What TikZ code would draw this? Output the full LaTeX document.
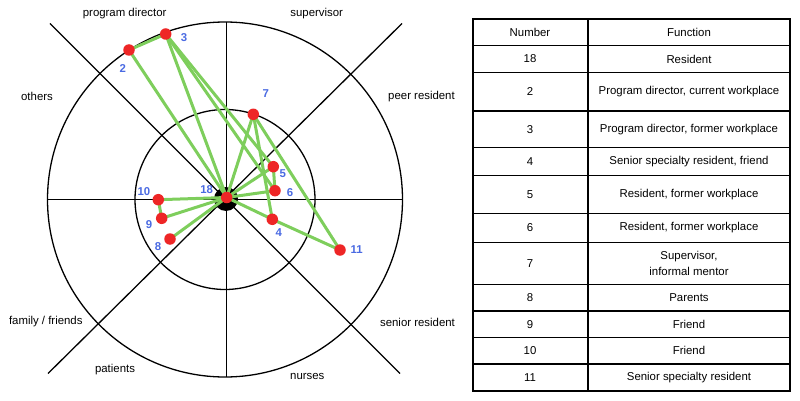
\documentclass[tikz,border=0pt]{standalone}
\usepackage{fontspec}
\setmainfont{Liberation Sans}
\usetikzlibrary{calc, positioning}

\definecolor{tiegreen}{RGB}{126,206,92}
\definecolor{dotred}{RGB}{238,38,38}
\definecolor{numblue}{RGB}{74,106,226}

\begin{document}
\begin{tikzpicture}[x=1pt, y=-1pt, font=\fontsize{11.4}{16.7}\selectfont,
  ring/.style={line width=1.3pt},
  person/.style={circle, fill=dotred, inner sep=0pt, minimum size=11.5pt},
  num/.style={text=numblue, font=\fontsize{11.4}{13}\selectfont\bfseries},
  tie/.style={tiegreen, line width=3pt},
  grid/.style={line width=1.2pt},
  cell/.style={align=center}]
\useasboundingbox (0,0) rectangle (800,401);
\def\cx{225}
\def\cy{199.5}
\def\outer{177.5}
\def\inner{90}

\coordinate (O) at (\cx,\cy);

% circles and sector lines
\draw[ring] (O) circle[radius=\outer pt];
\draw[ring] (O) circle[radius=\inner pt];
\draw[ring] (\cx-\outer,\cy) -- (\cx+\outer,\cy);
\draw[ring] (\cx+1.5,\cy-\outer) -- (\cx+1.5,\cy+\outer);
\draw[ring] (\cx-175,\cy-176) -- (\cx+175,\cy+174);
\draw[ring] (\cx-177,\cy+174) -- (\cx+177,\cy-176);

% sector names
\node (pd)  at (124.7,13.3) {program director};
\node (sup) at (316.7,13.3) {supervisor};
\node (oth) at (37,96.7) {others};
\node (peer) at (421.5,96.5) {peer resident};
\node (fam) at (45.8,321.7) {family / friends};
\node (sen) at (417.5,322) {senior resident};
\node (pat) at (115,369.3) {patients};
\node (nur) at (307.3,376.7) {nurses};

% the resident in the middle
\fill (226,199) circle (12pt);

% people
\foreach \n/\x/\y in {18/226.7/197.5, 2/129/50, 3/165.7/34, 4/272.3/219.3,
  5/273.3/166.7, 6/275/190.7, 7/253.3/114.3, 8/170/239, 9/161.7/218.3,
  10/158.3/199.7, 11/340/250}
  \coordinate (c\n) at (\x,\y);

\foreach \a/\b in {2/3, 2/18, 3/18, 3/5, 3/6, 7/18, 7/4, 7/11, 5/6, 5/18,
  6/18, 4/18, 4/11, 10/18, 10/9, 9/18, 8/18}
  \draw[tie] (c\a) -- (c\b);

\foreach \n in {18,2,3,4,5,6,7,8,9,10,11}
  \node[person] (p\n) at (c\n) {};

\node[num] (l18) at (206.7,189.3) {18};
\node[num] (l2)  at (122.7,68.3) {2};
\node[num] (l3)  at (184,37.7) {3};
\node[num] (l4)  at (278.7,232.3) {4};
\node[num] (l5)  at (282.7,174) {5};
\node[num] (l6)  at (290,192.7) {6};
\node[num] (l7)  at (265.7,93.3) {7};
\node[num] (l8)  at (158,246.7) {8};
\node[num] (l9)  at (149,225) {9};
\node[num] (l10) at (144,192) {10};
\node[num] (l11) at (356.7,250) {11};

% table
\draw[grid] (473,19) rectangle (790,391);
\draw[grid] (588,19) -- (588,391);
\foreach \k/\num/\func/\ya/\yb in {
  0/Number/Function/19/45.7,
  1/18/Resident/45.7/72.3,
  2/2/{Program director, current workplace}/72.3/111,
  3/3/{Program director, former workplace}/111/147.7,
  4/4/{Senior specialty resident, friend}/147.7/175.7,
  5/5/{Resident, former workplace}/175.7/213.3,
  6/6/{Resident, former workplace}/213.3/242.7,
  7/7/{Supervisor,\\ informal mentor}/242.7/284.3,
  8/8/Parents/284.3/311,
  9/9/Friend/311/337.7,
  10/10/Friend/337.7/364,
  11/11/{Senior specialty resident}/364/391}
{
  \ifnum\k>0 \draw[grid] (473,\ya) -- (790,\ya); \fi
  \node[cell] (n\k) at (530,{(\ya+\yb)/2}) {\num};
  \node[cell] (f\k) at (689,{(\ya+\yb)/2}) {\func};
}

\end{tikzpicture}
\end{document}
